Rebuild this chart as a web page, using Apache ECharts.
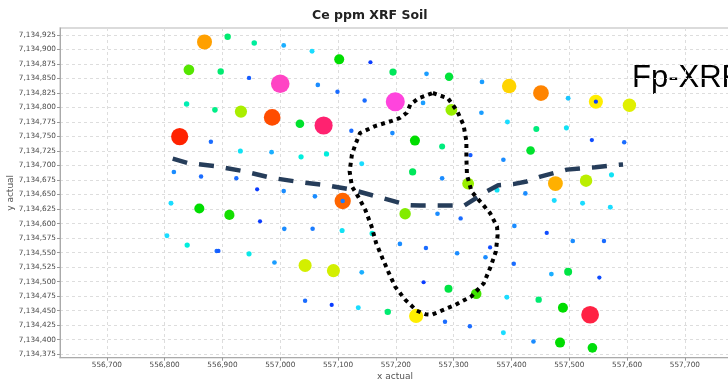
<!DOCTYPE html>
<html>
<head>
<meta charset="utf-8">
<script src="https://cdn.jsdelivr.net/npm/echarts@6/dist/echarts.min.js"></script>
<style>
  html, body { margin: 0; padding: 0; background: #fff; }
  #chart { width: 728px; height: 382px; }
</style>
</head>
<body>
<div id="chart"></div>
<script>
// Soil sample locations with their Ce reading: [x, y, Ce ppm]
const samples = [
  [556869, 7134913, 88], [556909, 7134922, 50], [556955, 7134911, 47], [557006, 7134907, 39],
  [556842, 7134865, 64], [556897, 7134862, 50], [556946, 7134851, 34], [557000, 7134841, 108],
  [556838, 7134806, 46], [556887, 7134796, 48], [556932, 7134793, 72], [556986, 7134783, 97],
  [556826, 7134750, 100], [556880, 7134741, 35], [556931, 7134725, 42], [556985, 7134723, 39],
  [556816, 7134689, 37], [556863, 7134681, 35], [556924, 7134678, 35], [556960, 7134659, 32],
  [557006, 7134656, 37], [557055, 7134897, 41], [557102, 7134883, 60], [557156, 7134878, 32],
  [557195, 7134861, 52], [557253, 7134858, 38], [557065, 7134839, 37], [557099, 7134827, 35],
  [557146, 7134812, 35], [557199, 7134810, 110], [557247, 7134808, 38], [557034, 7134772, 56],
  [557075, 7134769, 105], [557123, 7134760, 35], [557194, 7134756, 37], [557233, 7134743, 60],
  [557036, 7134715, 44], [557080, 7134720, 44], [557141, 7134703, 41], [557229, 7134689, 52],
  [557292, 7134853, 55], [557349, 7134844, 38], [557396, 7134837, 85], [557451, 7134825, 92],
  [557498, 7134816, 40], [557296, 7134796, 70], [557348, 7134791, 38], [557393, 7134775, 41],
  [557443, 7134763, 49], [557495, 7134765, 42], [557280, 7134733, 49], [557433, 7134726, 56],
  [557329, 7134718, 34], [557386, 7134710, 37], [557280, 7134678, 37], [557325, 7134669, 70],
  [557375, 7134658, 42], [557476, 7134669, 87], [557424, 7134652, 37], [557546, 7134810, 83],
  [557546, 7134810, 32], [557604, 7134804, 79], [557539, 7134744, 33], [557595, 7134740, 35],
  [557573, 7134684, 42], [557529, 7134674, 74], [556811, 7134635, 41], [556860, 7134626, 60],
  [556912, 7134615, 61], [556965, 7134604, 32], [557007, 7134591, 37], [556804, 7134579, 41],
  [556839, 7134563, 44], [556890, 7134553, 35], [556893, 7134553, 34], [556946, 7134548, 43],
  [556990, 7134533, 38], [557060, 7134647, 37], [557108, 7134639, 95], [557108, 7134639, 36],
  [557216, 7134617, 68], [557056, 7134591, 36], [557107, 7134588, 42], [557159, 7134583, 44],
  [557207, 7134565, 37], [557252, 7134558, 35], [557043, 7134528, 77], [557092, 7134519, 77],
  [557141, 7134516, 39], [557248, 7134499, 32], [557043, 7134467, 35], [557089, 7134460, 32],
  [557135, 7134455, 41], [557186, 7134448, 50], [557235, 7134441, 83], [557272, 7134617, 37],
  [557312, 7134609, 35], [557405, 7134596, 37], [557461, 7134584, 33], [557506, 7134570, 37],
  [557363, 7134559, 33], [557306, 7134549, 37], [557355, 7134542, 37], [557404, 7134531, 35],
  [557469, 7134513, 39], [557498, 7134517, 54], [557291, 7134488, 54], [557339, 7134479, 63],
  [557392, 7134473, 41], [557447, 7134469, 50], [557489, 7134455, 60], [557285, 7134431, 35],
  [557328, 7134423, 35], [557386, 7134412, 41], [557438, 7134397, 37], [557484, 7134395, 60],
  [557552, 7134507, 33], [557536, 7134443, 103], [557540, 7134386, 59], [557571, 7134628, 41],
  [557523, 7134635, 41], [557474, 7134640, 41], [557560, 7134570, 35]
];

// Dashed boundary across the grid: [x, y]
const boundaryLine = [
  [556814, 7134712], [556841, 7134704], [556889, 7134699], [556938, 7134690],
  [556984, 7134679], [557031, 7134672], [557081, 7134666], [557126, 7134658],
  [557173, 7134645], [557220, 7134632], [557242, 7134631], [557318, 7134631],
  [557358, 7134656], [557377, 7134666], [557403, 7134668], [557424, 7134672],
  [557450, 7134681], [557496, 7134693], [557545, 7134697], [557593, 7134702]
];

// Dotted closed outline of the target zone: [x, y]
const zoneOutline = [
  [557264, 7134825], [557290, 7134816], [557306, 7134794], [557317, 7134770],
  [557322, 7134742], [557322, 7134713], [557323, 7134684], [557331, 7134655],
  [557346, 7134638], [557363, 7134618], [557375, 7134595], [557376, 7134580],
  [557373, 7134552], [557364, 7134526], [557352, 7134497], [557331, 7134475],
  [557303, 7134460], [557274, 7134448], [557262, 7134443], [557251, 7134444],
  [557236, 7134450], [557216, 7134469], [557199, 7134491], [557187, 7134517],
  [557177, 7134540], [557166, 7134566], [557158, 7134595], [557147, 7134624],
  [557135, 7134646], [557124, 7134664], [557120, 7134690], [557124, 7134719],
  [557131, 7134739], [557138, 7134756], [557164, 7134768], [557193, 7134777],
  [557207, 7134782], [557219, 7134791], [557225, 7134805], [557239, 7134816],
  [557264, 7134825]
];

const xTicks = [556700, 556800, 556900, 557000, 557100, 557200, 557300, 557400, 557500, 557600, 557700];
const yTicks = [7134375, 7134400, 7134425, 7134450, 7134475, 7134500, 7134525, 7134550, 7134575,
  7134600, 7134625, 7134650, 7134675, 7134700, 7134725, 7134750, 7134775, 7134800, 7134825,
  7134850, 7134875, 7134900, 7134925];

// Colour ramp for Ce ppm
const ceStops = [32, 35, 37, 39, 41, 44, 48, 54, 60, 64, 70, 76, 79, 83, 85, 87, 88, 92, 96, 100, 103, 105, 108, 110];
const ceColors = ['#0a3cff', '#1a6cff', '#1a8cff', '#1aaeff', '#1adcff', '#00eedd', '#00ee88', '#00e444',
  '#00dd00', '#55e600', '#99ee00', '#ccee00', '#e0f000', '#ffee00', '#ffd400', '#ffb000', '#ffa000',
  '#ff8400', '#ff5a00', '#ff2200', '#ff2244', '#ff2270', '#ff44c4', '#ff44dd'];
// Marker diameter for Ce ppm
const sizeStops = [32, 48, 54, 60, 110];
const sizePx = [4.2, 5.6, 8, 10, 19];

function hexToRgb(h) {
  const n = parseInt(h.slice(1), 16);
  return [(n >> 16) & 255, (n >> 8) & 255, n & 255];
}
function locate(stops, v) {
  if (v <= stops[0]) return [0, 0, 0];
  const last = stops.length - 1;
  if (v >= stops[last]) return [last, last, 0];
  for (let i = 0; i < last; i++) {
    if (v <= stops[i + 1]) return [i, i + 1, (v - stops[i]) / (stops[i + 1] - stops[i])];
  }
}
function colorFor(v) {
  const [a, b, t] = locate(ceStops, v);
  const c0 = hexToRgb(ceColors[a]), c1 = hexToRgb(ceColors[b]);
  const c = c0.map((x, k) => Math.round(x + (c1[k] - x) * t));
  return 'rgb(' + c.join(',') + ')';
}
function sizeFor(v) {
  const [a, b, t] = locate(sizeStops, v);
  return sizePx[a] + (sizePx[b] - sizePx[a]) * t;
}
function thousands(v) {
  return String(Math.round(v)).replace(/\B(?=(\d{3})+(?!\d))/g, ',');
}

// big markers first so the small ones stay visible on top
const drawOrder = samples.slice().sort((p, q) => q[2] - p[2]);

const labelFont = { fontFamily: 'DejaVu Sans', fontSize: 7.3, color: '#4a4a4a' };
const gridLine = { show: true, lineStyle: { color: '#dddddd', type: [3, 3], width: 1 } };

const chart = echarts.init(document.getElementById('chart'), null, { renderer: 'canvas' });
chart.setOption({
  animation: false,
  backgroundColor: '#fff',
  title: {
    text: 'Ce ppm XRF Soil',
    left: 312, top: 9, padding: 0,
    textStyle: { fontFamily: 'DejaVu Sans', fontWeight: 'bold', fontSize: 12.5, color: '#222' }
  },
  grid: {
    left: 60, top: 28, right: -2, bottom: 24.3,
    outerBoundsMode: 'none',
    show: true, borderColor: '#d0d0d0', borderWidth: 1.5
  },
  xAxis: {
    type: 'value', min: 556619, max: 557778,
    name: 'x actual', nameLocation: 'middle', nameGap: 14, nameMoveOverlap: false,
    nameTextStyle: { fontFamily: 'DejaVu Sans', fontSize: 9, color: '#555' },
    axisLine: { show: true, lineStyle: { color: '#aaaaaa' } },
    axisTick: { show: true, length: 3, customValues: xTicks, lineStyle: { color: '#999' } },
    axisLabel: Object.assign({ customValues: xTicks, margin: 4, formatter: thousands }, labelFont),
    splitLine: gridLine
  },
  yAxis: {
    type: 'value', min: 7134369, max: 7134937,
    name: 'y actual', nameLocation: 'middle', nameGap: 45, nameMoveOverlap: false,
    nameTextStyle: { fontFamily: 'DejaVu Sans', fontSize: 9, color: '#555' },
    axisLine: { show: true, lineStyle: { color: '#aaaaaa' } },
    axisTick: { show: true, length: 3, customValues: yTicks, lineStyle: { color: '#999' } },
    axisLabel: Object.assign({ customValues: yTicks, margin: 4, formatter: thousands }, labelFont),
    splitLine: gridLine
  },
  graphic: [{
    type: 'text', left: 632, top: 63,
    style: { text: 'Fp-XRF', font: '31px "Liberation Sans"', fill: '#000' }
  }],
  series: [
    {
      type: 'scatter',
      data: drawOrder,
      symbol: 'circle',
      symbolSize: v => sizeFor(v[2]),
      itemStyle: { color: p => colorFor(p.data[2]), opacity: 1 },
      z: 2
    },
    {
      type: 'line',
      data: boundaryLine,
      symbol: 'none',
      lineStyle: { color: '#263d5a', width: 4.5, type: [15, 12] },
      z: 3
    },
    {
      type: 'line',
      data: zoneOutline,
      symbol: 'none',
      lineStyle: { color: '#000', width: 4, type: [4, 4.3] },
      z: 4
    }
  ]
});
</script>
</body>
</html>
